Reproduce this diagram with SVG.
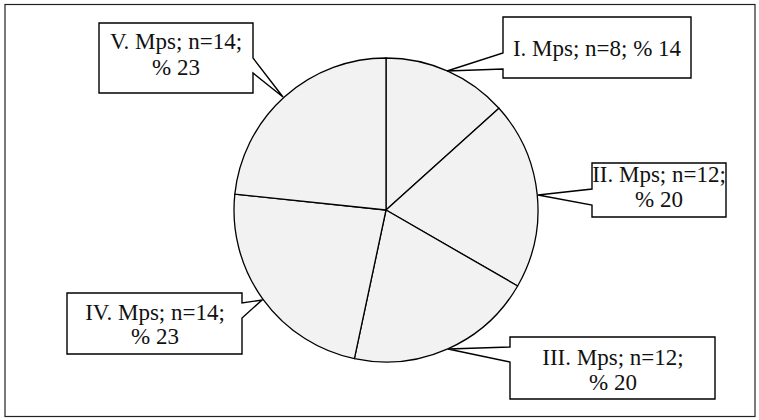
<svg xmlns="http://www.w3.org/2000/svg" width="759" height="420" viewBox="0 0 759 420">
<style>
.slice{fill:#f2f2f2;stroke:#000;stroke-width:1.3;stroke-linejoin:round}
.call{fill:#fff;stroke:#000;stroke-width:1.4;stroke-linejoin:miter}
.lbl{font-family:"Liberation Serif","Times New Roman",serif;font-size:23px;fill:#111;text-anchor:middle}
</style>
<rect x="5" y="4.5" width="750" height="412" fill="#fff" stroke="#222" stroke-width="1.2"/>
<g id="pie">
<path id="slice-I" class="slice" d="M386,210 L386,58 A152,152 0 0 1 498.96,108.29 Z"/>
<path id="slice-II" class="slice" d="M386,210 L498.96,108.29 A152,152 0 0 1 517.64,286 Z"/>
<path id="slice-III" class="slice" d="M386,210 L517.64,286 A152,152 0 0 1 354.40,358.68 Z"/>
<path id="slice-IV" class="slice" d="M386,210 L354.40,358.68 A152,152 0 0 1 234.83,194.11 Z"/>
<path id="slice-V" class="slice" d="M386,210 L234.83,194.11 A152,152 0 0 1 386,58 Z"/>
</g>
<g id="connectors"></g>
<g id="label-I">
<path class="call" d="M503,17 H691 V78 H503 V69 L447,71 L503,53 Z"/>
<text class="lbl" x="597" y="56">I. Mps; n=8; % 14</text>
</g>
<g id="label-II">
<path class="call" d="M592,163 H726 V217 H592 V205 L538,195 L592,189 Z"/>
<text class="lbl" x="659" y="182">II. Mps; n=12;</text>
<text class="lbl" x="659" y="207">% 20</text>
</g>
<g id="label-III">
<path class="call" d="M510,337 H715 V399 H510 V362 L448,349 L510,347 Z"/>
<text class="lbl" x="613" y="365">III. Mps; n=12;</text>
<text class="lbl" x="613" y="390">% 20</text>
</g>
<g id="label-IV">
<path class="call" d="M67,293 H242 V303 L262,300 L242,318 V354 H67 Z"/>
<text class="lbl" x="155" y="320">IV. Mps; n=14;</text>
<text class="lbl" x="155" y="344">% 23</text>
</g>
<g id="label-V">
<path class="call" d="M99,23 H253 V58 L283,97 L253,73 V93 H99 Z"/>
<text class="lbl" x="176" y="49">V. Mps; n=14;</text>
<text class="lbl" x="176" y="75">% 23</text>
</g>
</svg>
